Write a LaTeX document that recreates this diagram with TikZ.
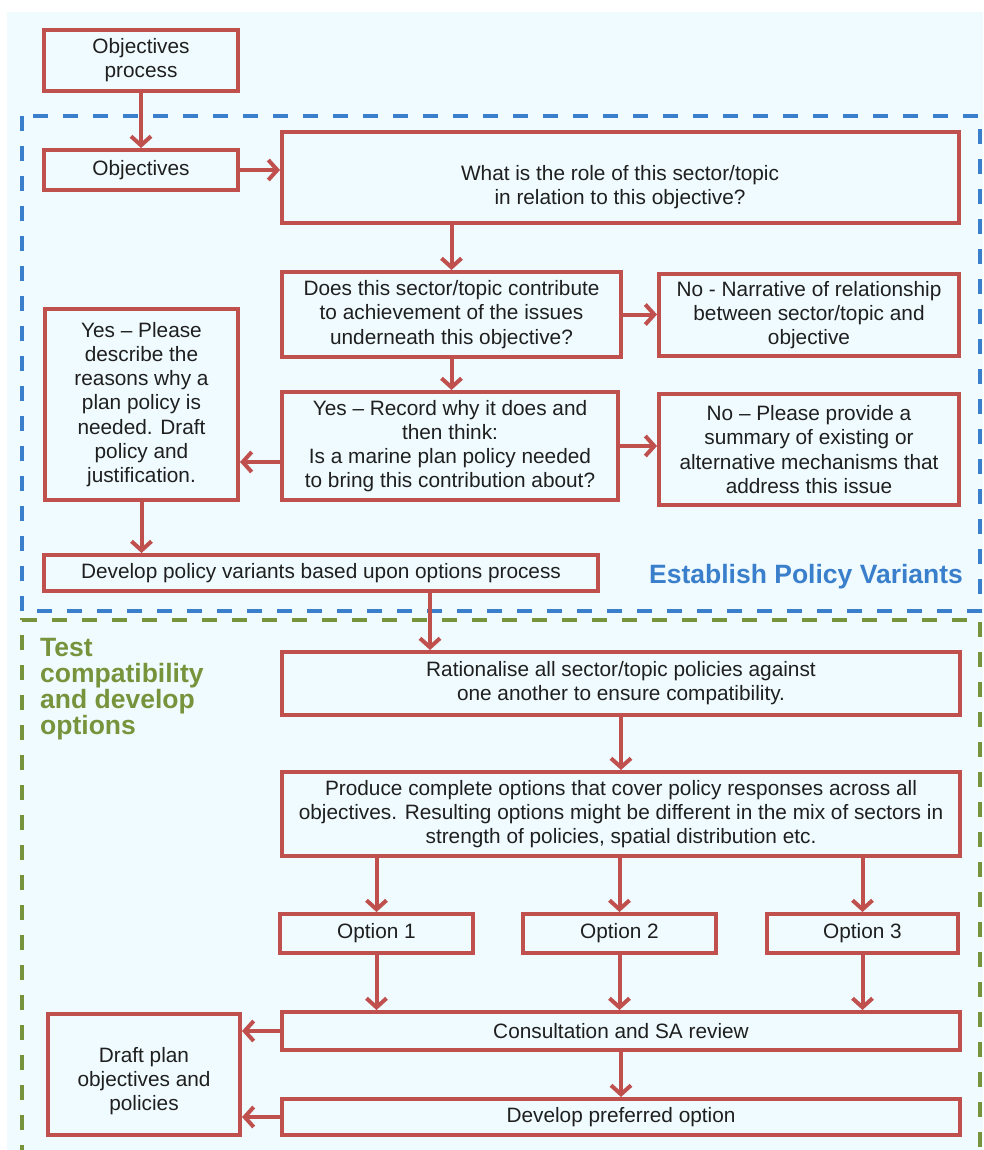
\documentclass[tikz,border=0pt]{standalone}
\usepackage{fontspec}
\setmainfont{Liberation Sans}
\usetikzlibrary{arrows.meta,calc}
\definecolor{boxred}{HTML}{C0504D}
\definecolor{bgcyan}{HTML}{EFFBFE}
\definecolor{dashblue}{HTML}{3A7FCB}
\definecolor{dashgreen}{HTML}{77933C}
\newcommand\mkbox[6]{\node[box, minimum width={#4-#2-4}, minimum height={#5-#3-4}] (#1) at ({(#2+#4)/2},{(#3+#5)/2}) {#6};}
\begin{document}
\begin{tikzpicture}[x=1pt,y=-1pt,
  box/.style={draw=boxred, line width=4pt, align=center, inner sep=0pt,
    font=\fontsize{20.8}{24.2}\selectfont, text=black!88},
  txt/.style={align=center, inner sep=0pt, font=\fontsize{20.8}{24.2}\selectfont, text=black!88},
  arr/.style={draw=boxred, line width=4pt, -{Straight Barb[length=9pt,width=20pt]}},
  region/.style={line width=4.5pt, dash pattern=on 15pt off 15pt},
  lab/.style={inner sep=0pt, font=\fontsize{26.5}{26}\selectfont\bfseries}
]
\useasboundingbox (0,0) rectangle (983,1150);
\fill[white] (0,0) rectangle (983,1150);
\fill[bgcyan] (7,12) rectangle (983,1150);

% regions
\draw[region, draw=dashblue] (22,116) rectangle (980,611);
\draw[region, draw=dashgreen] (22,1160) -- (22,620) -- (980,620) -- (980,1160);
\node[lab, text=dashblue, anchor=base west] (estlab) at (649,583) {Establish Policy Variants};
\node[lab, text=dashgreen, anchor=north west, align=left] (testlab) at (40,638) {Test\\compatibility\\and develop\\options};

% boxes
\mkbox{proc}{42}{28}{240}{93}{Objectives\\process}
\mkbox{obj}{42}{148}{240}{192}{Objectives}
\mkbox{role}{280}{130}{961}{225}{}
\node[txt] (roletxt) at (620,187) {What is the role of this sector/topic\\in relation to this objective?};
\mkbox{contrib}{280}{270}{623}{359}{Does this sector/topic contribute\\to achievement of the issues\\underneath this objective?}
\mkbox{narr}{657}{272}{961}{358}{No - Narrative of relationship\\between sector/topic and\\objective}
\mkbox{yesplease}{43}{307}{240}{502}{Yes – Please\\describe the\\reasons why a\\plan policy is\\needed. Draft\\policy and\\justification.}
\mkbox{yesrec}{280}{390}{620}{502}{Yes – Record why it does and\\then think:\\Is a marine plan policy needed\\to bring this contribution about?}
\mkbox{noprov}{657}{392}{961}{507}{No – Please provide a\\summary of existing or\\alternative mechanisms that\\address this issue}
\mkbox{develop}{42}{553}{600}{593}{Develop policy variants based upon options process}
\mkbox{rational}{280}{650}{962}{717}{Rationalise all sector/topic policies against\\one another to ensure compatibility.}
\mkbox{produce}{280}{770}{962}{858}{Produce complete options that cover policy responses across all\\objectives. Resulting options might be different in the mix of sectors in\\strength of policies, spatial distribution etc.}
\mkbox{opt1}{278}{912}{475}{955}{Option 1}
\mkbox{opt2}{521}{912}{718}{955}{Option 2}
\mkbox{opt3}{765}{912}{960}{955}{Option 3}
\mkbox{consult}{280}{1010}{962}{1052}{Consultation and SA review}
\mkbox{draft}{46}{1012}{242}{1137}{}
\node[txt] (drafttxt) at (144,1081) {Draft plan\\objectives and\\policies};
\mkbox{pref}{280}{1097}{962}{1137}{Develop preferred option}

% connectors
\draw[arr] (proc.south) -- (obj.north);
\draw[arr] (obj.east) -- (obj.east -| role.west);
\draw[arr] (contrib.north |- role.south) -- (contrib.north);
\draw[arr] (contrib.east) -- (narr.west |- contrib.east);
\draw[arr] (contrib.south) -- (contrib.south |- yesrec.north);
\draw[arr] (yesrec.east) -- (noprov.west |- yesrec.east);
\coordinate (yl) at ($(yesrec.west)+(0,16)$);
\draw[arr] (yl) -- (yl -| yesplease.east);
\draw[arr] (yesplease.south) -- (yesplease.south |- develop.north);
\coordinate (dv) at (430,593);
\draw[arr] (dv |- develop.south) -- (dv |- rational.north);
\draw[arr] (rational.south) -- (produce.north);
\draw[arr] (opt1.north |- produce.south) -- (opt1.north);
\draw[arr] (opt2.north |- produce.south) -- (opt2.north);
\draw[arr] (opt3.north |- produce.south) -- (opt3.north);
\draw[arr] (opt1.south) -- (opt1.south |- consult.north);
\draw[arr] (opt2.south) -- (opt2.south |- consult.north);
\draw[arr] (opt3.south) -- (opt3.south |- consult.north);
\draw[arr] (consult.south) -- (consult.south |- pref.north);
\draw[arr] (consult.west) -- (consult.west -| draft.east);
\draw[arr] (pref.west) -- (pref.west -| draft.east);
\end{tikzpicture}
\end{document}
